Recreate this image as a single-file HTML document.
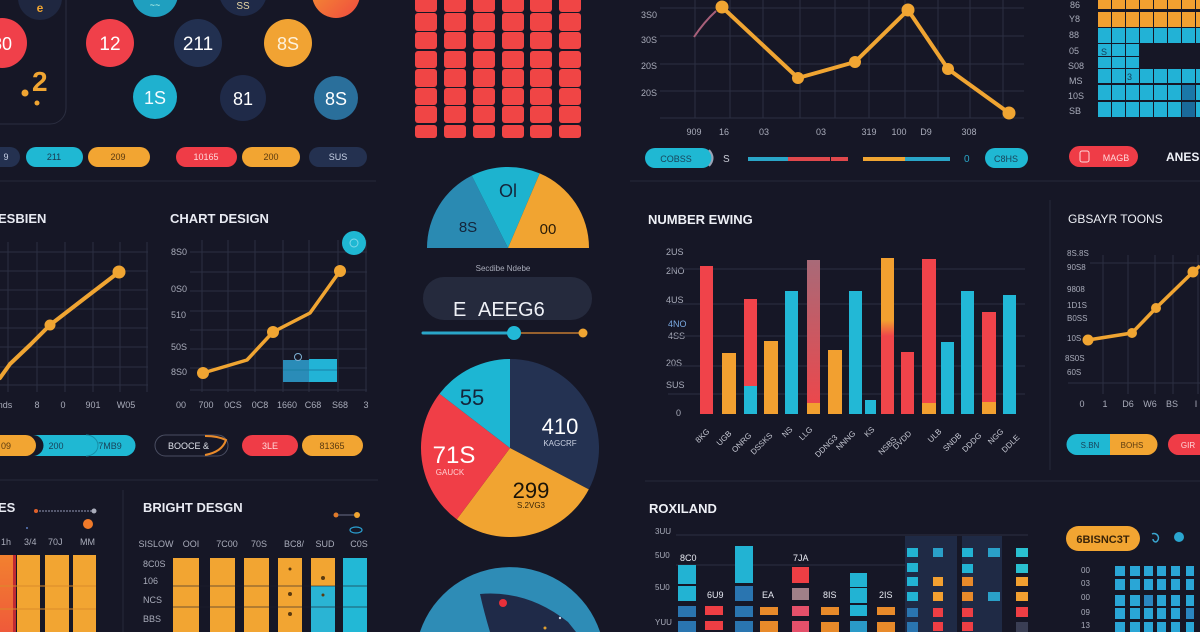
<!DOCTYPE html>
<html><head><meta charset="utf-8">
<style>
html,body{margin:0;padding:0;background:#161726;overflow:hidden;width:1200px;height:632px;}
svg{display:block}
text{font-family:"Liberation Sans",sans-serif;}
</style></head>
<body>
<svg width="1200" height="632" viewBox="0 0 1200 632" xmlns="http://www.w3.org/2000/svg">
<defs>
<linearGradient id="gor" x1="0" y1="0" x2="1" y2="1"><stop offset="0" stop-color="#f59a30"/><stop offset="1" stop-color="#ef4a3f"/></linearGradient>
<linearGradient id="gbar" x1="0" y1="0" x2="0" y2="1"><stop offset="0" stop-color="#f2812f"/><stop offset="1" stop-color="#ef5a3a"/></linearGradient>
<linearGradient id="gmauve" x1="0" y1="0" x2="0" y2="1"><stop offset="0" stop-color="#a86a78"/><stop offset="1" stop-color="#f04549"/></linearGradient>
<linearGradient id="gorred" x1="0" y1="0" x2="0" y2="1"><stop offset="0" stop-color="#f2a030"/><stop offset="0.4" stop-color="#f2a030"/><stop offset="0.5" stop-color="#f0464a"/><stop offset="1" stop-color="#f0464a"/></linearGradient>
</defs>
<rect width="1200" height="632" fill="#161726"/>

<!-- section dividers -->
<g stroke="#262939" stroke-width="1" fill="none">
<line x1="0" y1="181" x2="376" y2="181"/>
<line x1="0" y1="480" x2="378" y2="480"/>
<line x1="645" y1="481" x2="1200" y2="481"/>
<line x1="630" y1="181" x2="1200" y2="181"/>
<line x1="123" y1="490" x2="123" y2="632"/>
<line x1="1050" y1="200" x2="1050" y2="470"/>
</g>

<!-- ============ TOP LEFT ============ -->
<rect x="-20" y="-20" width="86" height="144" rx="16" fill="none" stroke="#2b2e40" stroke-width="1"/>
<circle cx="40" cy="-2" r="22" fill="#1f2740"/>
<text x="40" y="12" font-size="12" fill="#f0a532" text-anchor="middle" font-weight="bold">e</text>
<circle cx="2" cy="43" r="25" fill="#f0404a"/>
<text x="2" y="50" font-size="18" fill="#fff" text-anchor="middle">80</text>
<text x="32" y="91" font-size="28" fill="#f0a532" font-weight="bold">2</text>
<circle cx="25" cy="93" r="3.5" fill="#f0a532"/>
<circle cx="37" cy="103" r="2.5" fill="#f0a532"/>

<circle cx="155" cy="-6" r="23" fill="#1f9fbf"/>
<text x="155" y="8" font-size="9" fill="#cfe" text-anchor="middle">~~</text>
<circle cx="243" cy="-8" r="24" fill="#1f2a48"/>
<text x="243" y="9" font-size="10" fill="#e8d7a6" text-anchor="middle">SS</text>
<circle cx="336" cy="-6" r="24" fill="url(#gor)"/>

<circle cx="110" cy="43" r="24" fill="#f0404a"/>
<text x="110" y="50" font-size="19" fill="#fff" text-anchor="middle">12</text>
<circle cx="198" cy="43" r="24" fill="#223050"/>
<text x="198" y="50" font-size="19" fill="#fff" text-anchor="middle">211</text>
<circle cx="288" cy="43" r="24" fill="#f1a333"/>
<text x="288" y="50" font-size="18" fill="#fdf1dc" text-anchor="middle">8S</text>
<circle cx="155" cy="97" r="22" fill="#1fb1cf"/>
<text x="155" y="104" font-size="18" fill="#f2fbff" text-anchor="middle">1S</text>
<circle cx="243" cy="98" r="23" fill="#1f2a48"/>
<text x="243" y="105" font-size="18" fill="#fff" text-anchor="middle">81</text>
<circle cx="336" cy="98" r="22" fill="#2a6f9b"/>
<text x="336" y="105" font-size="18" fill="#fff" text-anchor="middle">8S</text>

<g font-size="9" text-anchor="middle">
<rect x="-20" y="147" width="40" height="20" rx="10" fill="#243150"/><text x="6" y="160" fill="#c8d2e6">9</text>
<rect x="26" y="147" width="57" height="20" rx="10" fill="#1fb8d3"/><text x="54" y="160" fill="#1b3a50">211</text>
<rect x="88" y="147" width="62" height="20" rx="10" fill="#f2a532"/><text x="118" y="160" fill="#5a3a10">209</text>
<rect x="176" y="147" width="61" height="20" rx="10" fill="#ef3c47"/><text x="206" y="160" fill="#ffd8da">10165</text>
<rect x="242" y="147" width="58" height="20" rx="10" fill="#f2a532"/><text x="271" y="160" fill="#5a3a10">200</text>
<rect x="309" y="147" width="58" height="20" rx="10" fill="#243150"/><text x="338" y="160" fill="#c8d2e6">SUS</text>
</g>

<!-- ============ MIDDLE LEFT: left chart ============ -->
<text x="-2" y="223" font-size="13" fill="#e8eaf2" font-weight="bold">ESBIEN</text>
<g stroke="#2c2f42" stroke-width="1">
<line x1="8" y1="242" x2="8" y2="392"/><line x1="37" y1="242" x2="37" y2="392"/><line x1="65" y1="242" x2="65" y2="392"/>
<line x1="93" y1="242" x2="93" y2="392"/><line x1="120" y1="242" x2="120" y2="392"/><line x1="147" y1="242" x2="147" y2="392"/>
<line x1="0" y1="252" x2="148" y2="252"/><line x1="0" y1="271" x2="148" y2="271"/><line x1="0" y1="290" x2="148" y2="290"/>
<line x1="0" y1="309" x2="148" y2="309"/><line x1="0" y1="328" x2="148" y2="328"/><line x1="0" y1="347" x2="148" y2="347"/>
<line x1="0" y1="367" x2="148" y2="367"/><line x1="0" y1="385" x2="148" y2="385"/>
</g>
<polyline points="0,378 10,364 30,345 50,325 85,298 119,272" fill="none" stroke="#f0a532" stroke-width="4" stroke-linejoin="round" stroke-linecap="round"/>
<circle cx="50" cy="325" r="5.5" fill="#f0a532"/>
<circle cx="119" cy="272" r="6.5" fill="#f0a532"/>
<g font-size="9" fill="#a9acba" text-anchor="middle">
<text x="5" y="408">nds</text><text x="37" y="408">8</text><text x="63" y="408">0</text><text x="93" y="408">901</text><text x="126" y="408">W05</text>
</g>
<rect x="-20" y="435" width="56" height="21" rx="10.5" fill="#f2a532"/>
<path d="M33,435 H125 A10.5,10.5 0 0 1 125,456 H33 A10.5,10.5 0 0 0 33,435 Z" fill="#1fb8d3"/>
<path d="M86,435 A12,10.5 0 0 1 86,456" fill="none" stroke="#168fa8" stroke-width="1"/>
<g font-size="9" text-anchor="middle">
<text x="6" y="449" fill="#5a3a10">09</text><text x="56" y="449" fill="#18435a">200</text><text x="110" y="449" fill="#18435a">7MB9</text>
</g>

<!-- ============ MIDDLE LEFT: right chart ============ -->
<text x="170" y="223" font-size="13" fill="#e8eaf2" font-weight="bold">CHART DESIGN</text>
<g stroke="#2c2f42" stroke-width="1">
<line x1="202" y1="240" x2="202" y2="392"/><line x1="228" y1="240" x2="228" y2="392"/><line x1="255" y1="240" x2="255" y2="392"/>
<line x1="283" y1="240" x2="283" y2="392"/><line x1="309" y1="240" x2="309" y2="392"/><line x1="338" y1="240" x2="338" y2="392"/>
<line x1="366" y1="240" x2="366" y2="392"/>
<line x1="190" y1="252" x2="367" y2="252"/><line x1="190" y1="272" x2="367" y2="272"/><line x1="190" y1="291" x2="367" y2="291"/>
<line x1="190" y1="311" x2="367" y2="311"/><line x1="190" y1="330" x2="367" y2="330"/><line x1="190" y1="349" x2="367" y2="349"/>
<line x1="190" y1="368" x2="367" y2="368"/><line x1="190" y1="390" x2="367" y2="390"/>
</g>
<g font-size="9" fill="#a9acba">
<text x="171" y="255">8S0</text><text x="171" y="292">0S0</text><text x="171" y="318">510</text><text x="171" y="350">50S</text><text x="171" y="375">8S0</text>
</g>
<rect x="283" y="360" width="27" height="22" fill="#2a8cb8"/>
<rect x="309" y="359" width="28" height="23" fill="#22b3d6"/>
<line x1="283" y1="370" x2="337" y2="370" stroke="#1a7fa5" stroke-width="1"/>
<circle cx="298" cy="357" r="3.5" fill="none" stroke="#7fb2d6" stroke-width="1"/>
<polyline points="203,373 247,360 273,332 310,313 340,271" fill="none" stroke="#f0a532" stroke-width="3.5" stroke-linejoin="round" stroke-linecap="round"/>
<circle cx="203" cy="373" r="6" fill="#f0a532"/>
<circle cx="273" cy="332" r="6" fill="#f0a532"/>
<circle cx="340" cy="271" r="6" fill="#f0a532"/>
<circle cx="354" cy="243" r="12" fill="#1fb8d3"/>
<circle cx="354" cy="243" r="4" fill="none" stroke="#7fd8ea" stroke-width="1"/>
<g font-size="9" fill="#a9acba" text-anchor="middle">
<text x="181" y="408">00</text><text x="206" y="408">700</text><text x="233" y="408">0CS</text><text x="260" y="408">0C8</text>
<text x="287" y="408">1660</text><text x="313" y="408">C68</text><text x="340" y="408">S68</text><text x="366" y="408">3</text>
</g>
<rect x="155" y="435" width="73" height="21" rx="10.5" fill="#161726" stroke="#4a4e62" stroke-width="1"/>
<path d="M205,436 Q218,436 226,440 Q222,452 205,455" fill="none" stroke="#e88a2a" stroke-width="2"/>
<text x="168" y="449" font-size="9" fill="#dfe2ea">BOOCE &amp;</text>
<rect x="242" y="435" width="56" height="21" rx="10.5" fill="#ef3c47"/>
<text x="270" y="449" font-size="9" fill="#ffd8da" text-anchor="middle">3LE</text>
<rect x="302" y="435" width="61" height="21" rx="10.5" fill="#f2a532"/>
<text x="332" y="449" font-size="9" fill="#5a3a10" text-anchor="middle">81365</text>

<!-- ============ BOTTOM LEFT ============ -->
<text x="-2" y="512" font-size="13" fill="#e8eaf2" font-weight="bold">ES</text>
<line x1="36" y1="511" x2="94" y2="511" stroke="#6a6e86" stroke-width="1.5" stroke-dasharray="2,1"/>
<circle cx="36" cy="511" r="2" fill="#e0602a"/>
<circle cx="94" cy="511" r="2.5" fill="#a9acba"/>
<circle cx="88" cy="524" r="5" fill="#f07a2a"/>
<circle cx="27" cy="528" r="1" fill="#5c7cc0"/>
<g font-size="9" fill="#a9acba">
<text x="1" y="545">1h</text><text x="24" y="545">3/4</text><text x="48" y="545">70J</text><text x="80" y="545">MM</text>
</g>
<rect x="0" y="555" width="14" height="77" fill="url(#gbar)"/>
<rect x="13" y="555" width="3" height="77" fill="#c02a33"/>
<rect x="17" y="555" width="23" height="77" fill="#f2a532"/>
<rect x="45" y="555" width="24" height="77" fill="#f2a532"/>
<rect x="73" y="555" width="23" height="77" fill="#f2a532"/>
<g stroke="#d98a2a" stroke-width="1"><line x1="0" y1="586" x2="96" y2="586"/><line x1="0" y1="609" x2="96" y2="609"/></g>

<text x="143" y="512" font-size="13" fill="#e8eaf2" font-weight="bold">BRIGHT DESGN</text>
<circle cx="336" cy="515" r="2.5" fill="#e07a2a"/>
<line x1="338" y1="515" x2="354" y2="515" stroke="#6a6e86" stroke-width="1"/>
<circle cx="357" cy="515" r="3" fill="#f0a532"/>
<ellipse cx="356" cy="530" rx="6" ry="3" fill="none" stroke="#2a9fd0" stroke-width="1.2"/>
<g font-size="9" fill="#a9acba" text-anchor="middle">
<text x="156" y="547">SISLOW</text><text x="191" y="547">OOI</text><text x="227" y="547">7C00</text><text x="259" y="547">70S</text>
<text x="294" y="547">BC8/</text><text x="325" y="547">SUD</text><text x="359" y="547">C0S</text>
</g>
<g font-size="9" fill="#a9acba">
<text x="143" y="567">8C0S</text><text x="143" y="584">106</text><text x="143" y="603">NCS</text><text x="143" y="622">BBS</text>
</g>
<rect x="173" y="558" width="26" height="74" fill="#f2a532"/>
<rect x="210" y="558" width="25" height="74" fill="#f2a532"/>
<rect x="244" y="558" width="25" height="74" fill="#f2a532"/>
<rect x="278" y="558" width="24" height="74" fill="#f2a532"/>
<rect x="311" y="558" width="24" height="28" fill="#f2a532"/>
<rect x="311" y="586" width="24" height="46" fill="#2ab4d4"/>
<rect x="343" y="558" width="24" height="74" fill="#22b8d6"/>
<g stroke="#1d1e2c" stroke-width="1" opacity="0.6"><line x1="173" y1="586" x2="367" y2="586"/><line x1="173" y1="607" x2="367" y2="607"/></g>
<g fill="#5a3a10"><circle cx="290" cy="569" r="1.5"/><circle cx="290" cy="594" r="2"/><circle cx="290" cy="614" r="2"/><circle cx="323" cy="578" r="2"/><circle cx="323" cy="595" r="1.5"/></g>

<!-- ============ CENTER COLUMN ============ -->
<g fill="#f04545">
<rect x="415" y="-6" width="22" height="18" rx="3"/><rect x="444" y="-6" width="22" height="18" rx="3"/><rect x="473" y="-6" width="22" height="18" rx="3"/><rect x="502" y="-6" width="22" height="18" rx="3"/><rect x="530" y="-6" width="22" height="18" rx="3"/><rect x="559" y="-6" width="22" height="18" rx="3"/>
<rect x="415" y="13" width="22" height="18" rx="3"/><rect x="444" y="13" width="22" height="18" rx="3"/><rect x="473" y="13" width="22" height="18" rx="3"/><rect x="502" y="13" width="22" height="18" rx="3"/><rect x="530" y="13" width="22" height="18" rx="3"/><rect x="559" y="13" width="22" height="18" rx="3"/>
<rect x="415" y="32" width="22" height="17" rx="3"/><rect x="444" y="32" width="22" height="17" rx="3"/><rect x="473" y="32" width="22" height="17" rx="3"/><rect x="502" y="32" width="22" height="17" rx="3"/><rect x="530" y="32" width="22" height="17" rx="3"/><rect x="559" y="32" width="22" height="17" rx="3"/>
<rect x="415" y="51" width="22" height="17" rx="3"/><rect x="444" y="51" width="22" height="17" rx="3"/><rect x="473" y="51" width="22" height="17" rx="3"/><rect x="502" y="51" width="22" height="17" rx="3"/><rect x="530" y="51" width="22" height="17" rx="3"/><rect x="559" y="51" width="22" height="17" rx="3"/>
<rect x="415" y="69" width="22" height="18" rx="3"/><rect x="444" y="69" width="22" height="18" rx="3"/><rect x="473" y="69" width="22" height="18" rx="3"/><rect x="502" y="69" width="22" height="18" rx="3"/><rect x="530" y="69" width="22" height="18" rx="3"/><rect x="559" y="69" width="22" height="18" rx="3"/>
<rect x="415" y="88" width="22" height="17" rx="3"/><rect x="444" y="88" width="22" height="17" rx="3"/><rect x="473" y="88" width="22" height="17" rx="3"/><rect x="502" y="88" width="22" height="17" rx="3"/><rect x="530" y="88" width="22" height="17" rx="3"/><rect x="559" y="88" width="22" height="17" rx="3"/>
<rect x="415" y="106" width="22" height="17" rx="3"/><rect x="444" y="106" width="22" height="17" rx="3"/><rect x="473" y="106" width="22" height="17" rx="3"/><rect x="502" y="106" width="22" height="17" rx="3"/><rect x="530" y="106" width="22" height="17" rx="3"/><rect x="559" y="106" width="22" height="17" rx="3"/>
<rect x="415" y="125" width="22" height="13" rx="3"/><rect x="444" y="125" width="22" height="13" rx="3"/><rect x="473" y="125" width="22" height="13" rx="3"/><rect x="502" y="125" width="22" height="13" rx="3"/><rect x="530" y="125" width="22" height="13" rx="3"/><rect x="559" y="125" width="22" height="13" rx="3"/>
</g>

<!-- gauge -->
<path d="M508,248 L427,248 A81,81 0 0 1 471.7,175.6 Z" fill="#2a8ab2"/>
<path d="M508,248 L471.7,175.6 A81,81 0 0 1 539.7,173.4 Z" fill="#1db3cf"/>
<path d="M508,248 L539.7,173.4 A81,81 0 0 1 589,248 Z" fill="#f1a431"/>
<text x="508" y="197" font-size="18" fill="#14243a" text-anchor="middle">Ol</text>
<text x="468" y="232" font-size="15" fill="#14243a" text-anchor="middle">8S</text>
<text x="548" y="234" font-size="15" fill="#2a1c08" text-anchor="middle">00</text>
<text x="503" y="271" font-size="8" fill="#a9acba" text-anchor="middle">Secdibe  Ndebe</text>
<rect x="423" y="277" width="169" height="43" rx="21" fill="#252a3d"/>
<text x="453" y="316" font-size="20" fill="#eef0f6">E</text>
<text x="478" y="316" font-size="20" fill="#eef0f6">AEEG6</text>
<line x1="423" y1="333" x2="513" y2="333" stroke="#2aa6c8" stroke-width="3" stroke-linecap="round"/>
<line x1="514" y1="333" x2="583" y2="333" stroke="#c27a30" stroke-width="1.5"/>
<circle cx="514" cy="333" r="7" fill="#22b8d6"/>
<circle cx="583" cy="333" r="4.5" fill="#f0a532"/>

<!-- pie -->
<path d="M510,448 L510,359 A89,89 0 0 1 588.8,489.4 Z" fill="#243252"/>
<path d="M510,448 L588.8,489.4 A89,89 0 0 1 456.8,519.4 Z" fill="#f1a431"/>
<path d="M510,448 L456.8,519.4 A89,89 0 0 1 439.5,393.7 Z" fill="#f03e47"/>
<path d="M510,448 L439.5,393.7 A89,89 0 0 1 510,359 Z" fill="#1db6d3"/>
<text x="472" y="405" font-size="22" fill="#14243a" text-anchor="middle">55</text>
<text x="560" y="434" font-size="22" fill="#fff" text-anchor="middle">410</text>
<text x="560" y="446" font-size="8" fill="#c8cfe0" text-anchor="middle">KAGCRF</text>
<text x="454" y="463" font-size="24" fill="#fff" text-anchor="middle">71S</text>
<text x="450" y="475" font-size="8" fill="#ffd0d2" text-anchor="middle">GAUCK</text>
<text x="531" y="498" font-size="22" fill="#1c1408" text-anchor="middle">299</text>
<text x="531" y="508" font-size="8" fill="#3a2608" text-anchor="middle">S.2VG3</text>

<!-- bottom circle (cut at frame edge) -->
<path d="M419.9,632 A95,95 0 0 1 600.1,632 Z" fill="#2e8cb6"/>
<path d="M480,594 Q528,590 568,622 L576,632 L490,632 Q484,612 480,594 Z" fill="#1f2a48"/>
<circle cx="503" cy="603" r="4" fill="#e8303a"/>
<circle cx="560" cy="618" r="1.2" fill="#cfd8e8"/>
<circle cx="545" cy="628" r="1.5" fill="#e0a030"/>

<!-- ============ TOP RIGHT line chart ============ -->
<g stroke="#2c2f42" stroke-width="1">
<line x1="660" y1="8" x2="1024" y2="8"/><line x1="660" y1="36" x2="1024" y2="36"/><line x1="660" y1="64" x2="1024" y2="64"/>
<line x1="660" y1="91" x2="1024" y2="91"/><line x1="660" y1="118" x2="1024" y2="118"/>
<line x1="695" y1="0" x2="695" y2="118"/><line x1="730" y1="0" x2="730" y2="118"/><line x1="763" y1="0" x2="763" y2="118"/>
<line x1="800" y1="0" x2="800" y2="118"/><line x1="835" y1="0" x2="835" y2="118"/><line x1="869" y1="0" x2="869" y2="118"/>
<line x1="905" y1="0" x2="905" y2="118"/><line x1="938" y1="0" x2="938" y2="118"/><line x1="970" y1="0" x2="970" y2="118"/>
<line x1="1003" y1="0" x2="1003" y2="118"/>
</g>
<g font-size="9" fill="#a9acba">
<text x="641" y="18">3S0</text><text x="641" y="43">30S</text><text x="641" y="69">20S</text><text x="641" y="96">20S</text>
</g>
<path d="M694,37 Q704,22 716,11" fill="none" stroke="#a8607a" stroke-width="2"/>
<polyline points="722,7 798,78 855,62 908,10 948,69 1009,113" fill="none" stroke="#f0a532" stroke-width="4" stroke-linejoin="round" stroke-linecap="round"/>
<circle cx="722" cy="7" r="6.5" fill="#f0a532"/>
<circle cx="798" cy="78" r="6" fill="#f0a532"/>
<circle cx="855" cy="62" r="6" fill="#f0a532"/>
<circle cx="908" cy="10" r="6.5" fill="#f0a532"/>
<circle cx="948" cy="69" r="6" fill="#f0a532"/>
<circle cx="1009" cy="113" r="6.5" fill="#f0a532"/>
<g font-size="9" fill="#a9acba" text-anchor="middle">
<text x="694" y="135">909</text><text x="724" y="135">16</text><text x="764" y="135">03</text><text x="821" y="135">03</text>
<text x="869" y="135">319</text><text x="899" y="135">100</text><text x="926" y="135">D9</text><text x="969" y="135">308</text>
</g>
<rect x="645" y="148" width="67" height="20" rx="10" fill="#1fb8d3"/>
<path d="M709,150 Q716,158 709,166" fill="none" stroke="#9aa3b6" stroke-width="2"/>
<text x="676" y="162" font-size="9" fill="#18435a" text-anchor="middle">COBSS</text>
<text x="723" y="162" font-size="10" fill="#c9cbd6">S</text>
<rect x="748" y="157" width="40" height="4" fill="#2aa6c8"/>
<rect x="788" y="157" width="42" height="4" fill="#e0484c"/>
<rect x="831" y="157" width="17" height="4" fill="#e0484c"/>
<rect x="863" y="157" width="42" height="4" fill="#f0a532"/>
<rect x="905" y="157" width="45" height="4" fill="#2aa6c8"/>
<text x="964" y="162" font-size="10" fill="#2aa6c8">0</text>
<rect x="985" y="148" width="43" height="20" rx="10" fill="#1fb8d3"/>
<text x="1006" y="162" font-size="9" fill="#18435a" text-anchor="middle">C8HS</text>

<!-- ============ TOP RIGHT PANEL grid ============ -->
<g font-size="9" fill="#a9acba">
<text x="1070" y="8">86</text><text x="1069" y="22">Y8</text><text x="1069" y="38">88</text><text x="1069" y="54">05</text>
<text x="1068" y="69">S08</text><text x="1069" y="84">MS</text><text x="1068" y="99">10S</text><text x="1069" y="114">SB</text>
</g>
<g fill="#f2a030">
<rect x="1098" y="-4" width="13" height="13"/><rect x="1112" y="-4" width="13" height="13"/><rect x="1126" y="-4" width="13" height="13"/><rect x="1140" y="-4" width="13" height="13"/><rect x="1154" y="-4" width="13" height="13"/><rect x="1168" y="-4" width="13" height="13"/><rect x="1182" y="-4" width="13" height="13"/><rect x="1196" y="-4" width="4" height="13"/>
<rect x="1098" y="12" width="13" height="15"/><rect x="1112" y="12" width="13" height="15"/><rect x="1126" y="12" width="13" height="15"/><rect x="1140" y="12" width="13" height="15"/><rect x="1154" y="12" width="13" height="15"/><rect x="1168" y="12" width="13" height="15"/><rect x="1182" y="12" width="13" height="15"/><rect x="1196" y="12" width="4" height="15"/>
</g>
<g fill="#22b2d6">
<rect x="1098" y="28" width="13" height="15"/><rect x="1112" y="28" width="13" height="15"/><rect x="1126" y="28" width="13" height="15"/><rect x="1140" y="28" width="13" height="15"/><rect x="1154" y="28" width="13" height="15"/><rect x="1168" y="28" width="13" height="15"/><rect x="1182" y="28" width="13" height="15"/><rect x="1196" y="28" width="4" height="15"/>
<rect x="1098" y="44" width="13" height="12"/><rect x="1112" y="44" width="13" height="12"/><rect x="1126" y="44" width="13" height="12"/>
<rect x="1098" y="57" width="13" height="11"/><rect x="1112" y="57" width="13" height="11"/><rect x="1126" y="57" width="13" height="11"/>
<rect x="1098" y="69" width="13" height="14"/><rect x="1112" y="69" width="13" height="14"/><rect x="1126" y="69" width="13" height="14"/><rect x="1140" y="69" width="13" height="14"/><rect x="1154" y="69" width="13" height="14"/><rect x="1168" y="69" width="13" height="14"/><rect x="1182" y="69" width="13" height="14"/><rect x="1196" y="69" width="4" height="14"/>
<rect x="1098" y="85" width="13" height="15"/><rect x="1112" y="85" width="13" height="15"/><rect x="1126" y="85" width="13" height="15"/><rect x="1140" y="85" width="13" height="15"/><rect x="1154" y="85" width="13" height="15"/><rect x="1168" y="85" width="13" height="15"/><rect x="1196" y="85" width="4" height="15"/>
<rect x="1098" y="102" width="13" height="15"/><rect x="1112" y="102" width="13" height="15"/><rect x="1126" y="102" width="13" height="15"/><rect x="1140" y="102" width="13" height="15"/><rect x="1154" y="102" width="13" height="15"/><rect x="1168" y="102" width="13" height="15"/><rect x="1196" y="102" width="4" height="15"/>
</g>
<rect x="1182" y="85" width="13" height="15" fill="#1a78a8"/>
<rect x="1182" y="102" width="13" height="15" fill="#1a6a9a"/>
<text x="1101" y="55" font-size="9" fill="#14405a">S</text>
<text x="1127" y="80" font-size="9" fill="#14405a">3</text>
<rect x="1069" y="146" width="69" height="21" rx="10.5" fill="#ef3c47"/>
<rect x="1080" y="151" width="9" height="11" rx="2" fill="none" stroke="#ffd8da" stroke-width="1"/>
<text x="1116" y="161" font-size="9" fill="#ffd8da" text-anchor="middle">MAGB</text>
<text x="1166" y="161" font-size="12" fill="#f0f2f8" font-weight="bold">ANES</text>

<!-- ============ MIDDLE RIGHT bar chart ============ -->
<text x="648" y="224" font-size="13" fill="#eef0f6" font-weight="bold">NUMBER EWING</text>
<g font-size="9" fill="#a9acba">
<text x="666" y="255">2US</text><text x="666" y="274">2NO</text><text x="666" y="303">4US</text>
<text x="668" y="327" fill="#7aa8e0">4NO</text><text x="668" y="339">4SS</text><text x="666" y="366">20S</text><text x="666" y="388">SUS</text><text x="676" y="416">0</text>
</g>
<g stroke="#2c2f42" stroke-width="1">
<line x1="668" y1="269" x2="1025" y2="269"/><line x1="668" y1="304" x2="1025" y2="304"/><line x1="668" y1="336" x2="1025" y2="336"/>
<line x1="668" y1="366" x2="1025" y2="366"/><line x1="668" y1="394" x2="1025" y2="394"/>
</g>
<rect x="700" y="266" width="13" height="148" fill="#f0434a"/>
<rect x="722" y="353" width="14" height="61" fill="#f2a030"/>
<rect x="744" y="299" width="13" height="115" fill="#f0434a"/>
<rect x="744" y="386" width="13" height="28" fill="#22b8d6"/>
<rect x="764" y="341" width="14" height="73" fill="#f2a030"/>
<rect x="785" y="291" width="13" height="123" fill="#22b8d6"/>
<rect x="807" y="260" width="13" height="154" fill="url(#gmauve)"/>
<rect x="807" y="403" width="13" height="11" fill="#f2a030"/>
<rect x="828" y="350" width="14" height="64" fill="#f2a030"/>
<rect x="849" y="291" width="13" height="123" fill="#22b8d6"/>
<rect x="865" y="400" width="11" height="14" fill="#22b8d6"/>
<rect x="881" y="258" width="13" height="156" fill="url(#gorred)"/>
<rect x="901" y="352" width="13" height="62" fill="#f0434a"/>
<rect x="922" y="259" width="14" height="155" fill="#f0434a"/>
<rect x="922" y="403" width="14" height="11" fill="#f2a030"/>
<rect x="941" y="342" width="13" height="72" fill="#22b8d6"/>
<rect x="961" y="291" width="13" height="123" fill="#22b8d6"/>
<rect x="982" y="312" width="14" height="102" fill="#f0434a"/>
<rect x="982" y="402" width="14" height="12" fill="#f2a030"/>
<rect x="1003" y="295" width="13" height="119" fill="#22b8d6"/>
<g font-size="8" fill="#c9cbd6" text-anchor="end">
<text transform="translate(710,432) rotate(-45)">8KG</text>
<text transform="translate(732,434) rotate(-45)">UGB</text>
<text transform="translate(752,436) rotate(-45)">ONRG</text>
<text transform="translate(773,436) rotate(-45)">DSSKS</text>
<text transform="translate(793,430) rotate(-45)">NS</text>
<text transform="translate(813,430) rotate(-45)">LLG</text>
<text transform="translate(838,438) rotate(-45)">DDNG3</text>
<text transform="translate(856,434) rotate(-45)">NNNG</text>
<text transform="translate(875,430) rotate(-45)">KS</text>
<text transform="translate(912,434) rotate(-45)">DVDD</text>
<text transform="translate(897,440) rotate(-45)">NSBS</text>
<text transform="translate(942,432) rotate(-45)">ULB</text>
<text transform="translate(962,436) rotate(-45)">SNDB</text>
<text transform="translate(982,436) rotate(-45)">DDDG</text>
<text transform="translate(1004,432) rotate(-45)">NGG</text>
<text transform="translate(1020,438) rotate(-45)">DDLE</text>
</g>

<!-- ============ MIDDLE RIGHT PANEL line ============ -->
<text x="1068" y="223" font-size="12" fill="#eef0f6">GBSAYR TOONS</text>
<g stroke="#2c2f42" stroke-width="1">
<line x1="1103" y1="255" x2="1103" y2="394"/><line x1="1128" y1="255" x2="1128" y2="394"/><line x1="1155" y1="255" x2="1155" y2="394"/>
<line x1="1173" y1="255" x2="1173" y2="394"/><line x1="1198" y1="255" x2="1198" y2="394"/>
<line x1="1090" y1="263" x2="1200" y2="263"/><line x1="1068" y1="383" x2="1200" y2="383"/>
</g>
<g font-size="8" fill="#a9acba">
<text x="1067" y="256">8S.8S</text><text x="1067" y="270">90S8</text><text x="1067" y="292">9808</text><text x="1067" y="308">1D1S</text>
<text x="1067" y="321">B0SS</text><text x="1067" y="341">10S</text><text x="1065" y="361">8S0S</text><text x="1067" y="375">60S</text>
</g>
<polyline points="1088,340 1132,333 1156,308 1193,272 1200,266" fill="none" stroke="#f0a532" stroke-width="3.5" stroke-linejoin="round"/>
<circle cx="1088" cy="340" r="5.5" fill="#f0a532"/>
<circle cx="1132" cy="333" r="5" fill="#f0a532"/>
<circle cx="1156" cy="308" r="5" fill="#f0a532"/>
<circle cx="1193" cy="272" r="5.5" fill="#f0a532"/>
<g font-size="9" fill="#a9acba" text-anchor="middle">
<text x="1082" y="407">0</text><text x="1105" y="407">1</text><text x="1128" y="407">D6</text><text x="1150" y="407">W6</text><text x="1172" y="407">BS</text><text x="1196" y="407">I</text>
</g>
<path d="M1077,434 H1110 V455 H1077 A10.5,10.5 0 0 1 1077,434 Z" fill="#1fb8d3"/>
<path d="M1110,434 H1147 A10.5,10.5 0 0 1 1147,455 H1110 Z" fill="#f2a532"/>
<text x="1090" y="448" font-size="8" fill="#18435a" text-anchor="middle">S.BN</text>
<text x="1132" y="448" font-size="8" fill="#5a3a10" text-anchor="middle">BOHS</text>
<path d="M1178.5,434 H1200 V455 H1178.5 A10.5,10.5 0 0 1 1178.5,434 Z" fill="#ef3c47"/>
<text x="1188" y="448" font-size="8" fill="#ffd8da" text-anchor="middle">GIR</text>

<!-- ============ BOTTOM RIGHT ============ -->
<text x="649" y="513" font-size="13" fill="#eef0f6" font-weight="bold">ROXILAND</text>
<g font-size="8" fill="#a9acba">
<text x="655" y="534">3UU</text><text x="655" y="558">5U0</text><text x="655" y="590">5U0</text><text x="655" y="625">YUU</text>
</g>
<line x1="676" y1="535" x2="1028" y2="535" stroke="#2c2f42" stroke-width="1"/>
<line x1="676" y1="565" x2="905" y2="565" stroke="#2c2f42" stroke-width="1"/>
<rect x="905" y="536" width="52" height="96" fill="#1f2a45"/>
<rect x="962" y="536" width="40" height="96" fill="#1f2a45"/>
<!-- col1 -->
<rect x="678" y="565" width="18" height="19" fill="#22b3d3"/>
<rect x="678" y="586" width="18" height="15" fill="#22b3d3"/>
<rect x="678" y="606" width="18" height="11" fill="#2a75b0"/>
<rect x="678" y="621" width="18" height="11" fill="#2a75b0"/>
<text x="680" y="561" font-size="9" fill="#e8eaf2">8C0</text>
<!-- col2 -->
<text x="707" y="598" font-size="9" fill="#e8eaf2">6U9</text>
<rect x="705" y="606" width="18" height="9" fill="#ee3e44"/>
<rect x="705" y="621" width="18" height="9" fill="#ee3e44"/>
<!-- col3 -->
<rect x="735" y="546" width="18" height="37" fill="#22b3d3"/>
<rect x="735" y="586" width="18" height="15" fill="#2a75b0"/>
<rect x="735" y="606" width="18" height="11" fill="#2a75b0"/>
<rect x="735" y="621" width="18" height="11" fill="#2a75b0"/>
<!-- col4 -->
<text x="762" y="598" font-size="9" fill="#e8eaf2">EA</text>
<rect x="760" y="607" width="18" height="8" fill="#e88a2a"/>
<rect x="760" y="621" width="18" height="11" fill="#e88a2a"/>
<!-- col5 -->
<text x="793" y="561" font-size="9" fill="#e8eaf2">7JA</text>
<rect x="792" y="567" width="17" height="16" fill="#ee3e44"/>
<rect x="792" y="588" width="17" height="12" fill="#a08088"/>
<rect x="792" y="606" width="17" height="10" fill="#e4506a"/>
<rect x="792" y="621" width="17" height="11" fill="#e4506a"/>
<!-- col6 -->
<text x="823" y="598" font-size="9" fill="#e8eaf2">8IS</text>
<rect x="821" y="607" width="18" height="8" fill="#e88a2a"/>
<rect x="821" y="622" width="18" height="10" fill="#e88a2a"/>
<!-- col7 -->
<rect x="850" y="573" width="17" height="14" fill="#22b3d3"/>
<rect x="850" y="588" width="17" height="15" fill="#22b3d3"/>
<rect x="850" y="605" width="17" height="11" fill="#22b3d3"/>
<rect x="850" y="621" width="17" height="11" fill="#2a9ac8"/>
<!-- col8 -->
<text x="879" y="598" font-size="9" fill="#e8eaf2">2IS</text>
<rect x="877" y="607" width="18" height="8" fill="#e88a2a"/>
<rect x="877" y="622" width="18" height="10" fill="#e88a2a"/>
<!-- right blocks -->
<g>
<rect x="907" y="548" width="11" height="9" fill="#22b3d3"/><rect x="907" y="563" width="11" height="9" fill="#22b3d3"/><rect x="907" y="577" width="11" height="9" fill="#22b3d3"/><rect x="907" y="592" width="11" height="9" fill="#22b3d3"/><rect x="907" y="608" width="11" height="9" fill="#2a75b0"/><rect x="907" y="622" width="11" height="10" fill="#2a75b0"/>
<rect x="933" y="548" width="10" height="9" fill="#2aa0c8"/><rect x="933" y="577" width="10" height="9" fill="#f2a030"/><rect x="933" y="592" width="10" height="9" fill="#f2a030"/><rect x="933" y="608" width="10" height="9" fill="#ee3e44"/><rect x="933" y="622" width="10" height="9" fill="#ee3e44"/>
<rect x="962" y="548" width="11" height="9" fill="#22b3d3"/><rect x="962" y="564" width="11" height="9" fill="#22b3d3"/><rect x="962" y="577" width="11" height="9" fill="#e88a2a"/><rect x="962" y="592" width="11" height="9" fill="#e88a2a"/><rect x="962" y="608" width="11" height="9" fill="#ee3e44"/><rect x="962" y="622" width="11" height="9" fill="#ee3e44"/>
<rect x="988" y="548" width="12" height="9" fill="#2aa0c8"/><rect x="988" y="592" width="12" height="9" fill="#2aa0c8"/>
<rect x="1016" y="548" width="12" height="9" fill="#2ac0d0"/><rect x="1016" y="564" width="12" height="9" fill="#2ac0d0"/><rect x="1016" y="577" width="12" height="9" fill="#f2a030"/><rect x="1016" y="592" width="12" height="9" fill="#f2a030"/><rect x="1016" y="607" width="12" height="10" fill="#ee3e44"/><rect x="1016" y="622" width="12" height="10" fill="#3a3e54"/>
</g>

<!-- bottom-right panel -->
<rect x="1066" y="526" width="74" height="25" rx="12.5" fill="#f2a532"/>
<text x="1103" y="543" font-size="11" fill="#3a2408" text-anchor="middle" font-weight="bold">6BISNC3T</text>
<path d="M1152,534 a4,4 0 1 1 4,8 a3,3 0 0 1 -3,-3" fill="none" stroke="#3aa6d0" stroke-width="1.5"/>
<circle cx="1179" cy="537" r="5" fill="#2aa6d0"/>
<g font-size="8" fill="#a9acba">
<text x="1081" y="573">00</text><text x="1081" y="586">03</text><text x="1081" y="600">00</text><text x="1081" y="615">09</text><text x="1081" y="628">13</text>
</g>
<g fill="#2aa6d6">
<rect x="1115" y="566" width="10" height="10"/><rect x="1130" y="566" width="10" height="10"/><rect x="1144" y="566" width="9" height="10"/><rect x="1157" y="566" width="9" height="10"/><rect x="1171" y="566" width="9" height="10"/><rect x="1186" y="566" width="8" height="10"/>
<rect x="1115" y="579" width="10" height="11"/><rect x="1130" y="579" width="10" height="11"/><rect x="1144" y="579" width="9" height="11"/><rect x="1157" y="579" width="9" height="11"/><rect x="1171" y="579" width="9" height="11"/><rect x="1186" y="579" width="8" height="11"/>
<rect x="1115" y="595" width="10" height="11"/><rect x="1130" y="595" width="10" height="11"/><rect x="1144" y="595" width="9" height="11" fill="#2a86c0"/><rect x="1157" y="595" width="9" height="11"/><rect x="1171" y="595" width="9" height="11"/><rect x="1186" y="595" width="8" height="11"/>
<rect x="1115" y="608" width="10" height="11"/><rect x="1130" y="608" width="10" height="11"/><rect x="1144" y="608" width="9" height="11"/><rect x="1157" y="608" width="9" height="11"/><rect x="1171" y="608" width="9" height="11"/><rect x="1186" y="608" width="8" height="11" fill="#2a86c0"/>
<rect x="1115" y="622" width="10" height="10"/><rect x="1130" y="622" width="10" height="10"/><rect x="1144" y="622" width="9" height="10"/><rect x="1157" y="622" width="9" height="10"/><rect x="1171" y="622" width="9" height="10"/><rect x="1186" y="622" width="8" height="10"/>
</g>
</svg>
</body></html>
